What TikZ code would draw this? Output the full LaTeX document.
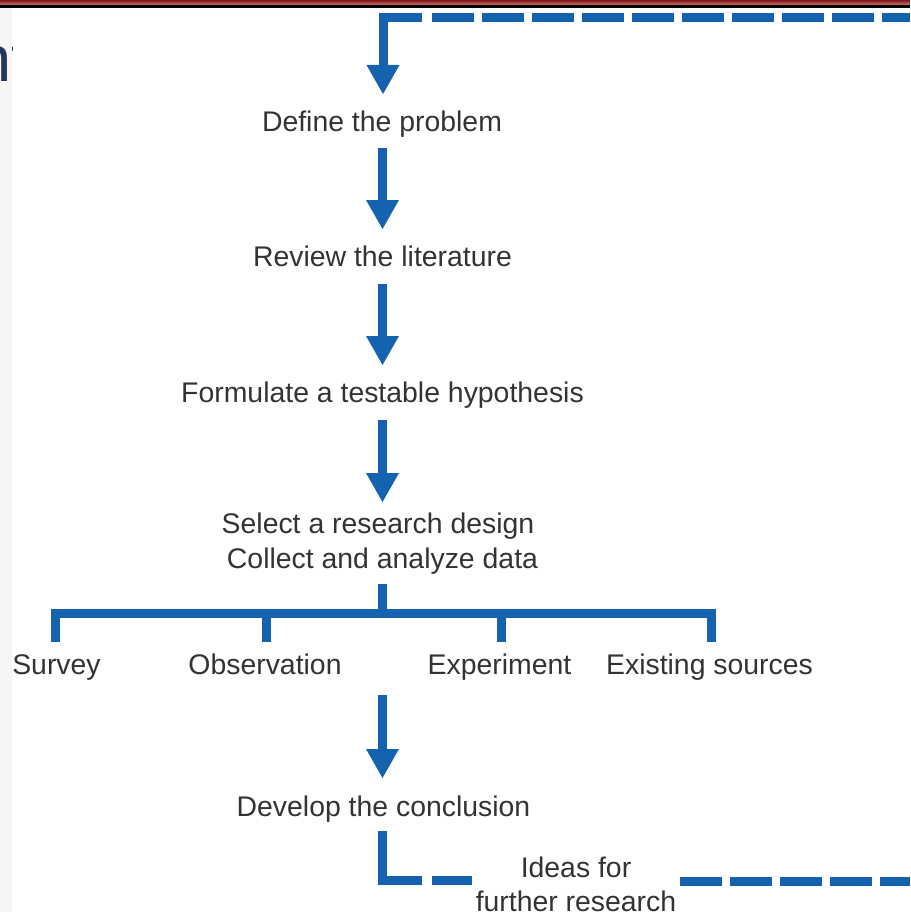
\documentclass[tikz,border=0pt]{standalone}
\usepackage{fontspec}
\setmainfont{Liberation Sans}
\usetikzlibrary{arrows.meta}
\definecolor{flowblue}{RGB}{21,99,175}
\definecolor{txtgray}{RGB}{51,51,51}
\definecolor{bandred}{RGB}{132,24,24}
\definecolor{bandpink}{RGB}{196,120,120}
\definecolor{stripgray}{RGB}{247,246,244}
\definecolor{titleblue}{RGB}{31,56,92}
\tikzset{
  lbl/.style={anchor=base, inner sep=0pt, text=txtgray, font=\fontsize{28.4}{34}\selectfont},
  flow/.style={draw=flowblue, line width=9pt, line cap=butt,
    -{Triangle[width=33pt,length=29pt,line width=0pt]}},
  bar/.style={draw=flowblue, line width=9pt, line cap=butt, line join=miter},
  dashbar/.style={draw=flowblue, line width=9pt, line cap=butt, dash pattern=on 41.7pt off 8.3pt},
}
\begin{document}
\begin{tikzpicture}[x=1pt,y=-1pt]
\useasboundingbox (0,0) rectangle (910,912);
\fill[white] (0,0) rectangle (910,912);
% screenshot frame
\shade[top color=bandred, bottom color=bandpink] (0,0) rectangle (910,5);
\fill[black] (0,5.2) rectangle (910,7.6);
\begin{scope}
\clip (0,7.6) rectangle (12,912);
\fill[stripgray] (0,7.6) rectangle (12,912);
\node[anchor=base west, inner sep=0pt, text=titleblue, font=\fontsize{65}{70}\selectfont] (title) at (-25,82) {nt};
\end{scope}

% text nodes
\node[lbl] (define) at (382,132) {Define the problem};
\node[lbl] (review) at (382.5,266) {Review the literature};
\node[lbl] (formulate) at (382.5,402) {Formulate a testable hypothesis};
\node[lbl] (select) at (378,533) {Select a research design};
\node[lbl] (collect) at (382.5,568) {Collect and analyze data};
\node[lbl] (survey) at (56.5,674) {Survey};
\node[lbl] (observation) at (265,674) {Observation};
\node[lbl] (experiment) at (499.5,674) {Experiment};
\node[lbl] (existing) at (709.5,674) {Existing sources};
\node[lbl] (develop) at (383.5,816) {Develop the conclusion};
\node[lbl] (ideas) at (576,877) {Ideas for};
\node[lbl] (further) at (576,911) {further research};

% coordinates
\coordinate (topright) at (910,17.5);
\coordinate (topdash) at (432,17.5);
\coordinate (topsolid) at (422,17.5);
\coordinate (topcorner) at (383,17.5);
\coordinate (a1e) at (383,94);
\coordinate (a2s) at (382.5,148);
\coordinate (a2e) at (382.5,229);
\coordinate (a3s) at (382.5,284);
\coordinate (a3e) at (382.5,365);
\coordinate (a4s) at (382.5,420);
\coordinate (a4e) at (382.5,502);
\coordinate (stubtop) at (382,584);
\coordinate (stubbot) at (382,613.5);
\coordinate (bl) at (55.5,613.5);
\coordinate (blb) at (55.5,642);
\coordinate (br) at (711.5,613.5);
\coordinate (brb) at (711.5,642);
\coordinate (ob) at (266,613.5);
\coordinate (obb) at (266,642);
\coordinate (eb) at (501.5,613.5);
\coordinate (ebb) at (501.5,642);
\coordinate (a5s) at (382.5,695);
\coordinate (a5e) at (382.5,778);
\coordinate (ltop) at (382,831);
\coordinate (lcorner) at (382,880.5);
\coordinate (lend) at (422,880.5);
\coordinate (ld1) at (432,880.5);
\coordinate (ld2) at (472,880.5);
\coordinate (rd1) at (680,881.5);
\coordinate (rd2) at (910,881.5);

% loop-back at top
\draw[dashbar] (topdash) -- (topright);
\draw[bar] (topsolid) -- (topcorner) -- (383,60);
\draw[flow] (383,55) -- (a1e);

% main arrows
\draw[flow] (a2s) -- (a2e);
\draw[flow] (a3s) -- (a3e);
\draw[flow] (a4s) -- (a4e);

% bracket
\draw[bar] (stubtop) -- (stubbot);
\draw[bar] (blb) -- (bl) -- (br) -- (brb);
\draw[bar] (ob) -- (obb);
\draw[bar] (eb) -- (ebb);

\draw[flow] (a5s) -- (a5e);

% bottom L and dashes
\draw[bar] (ltop) -- (lcorner) -- (lend);
\draw[bar] (ld1) -- (ld2);
\draw[dashbar] (rd1) -- (rd2);
\end{tikzpicture}
\end{document}
